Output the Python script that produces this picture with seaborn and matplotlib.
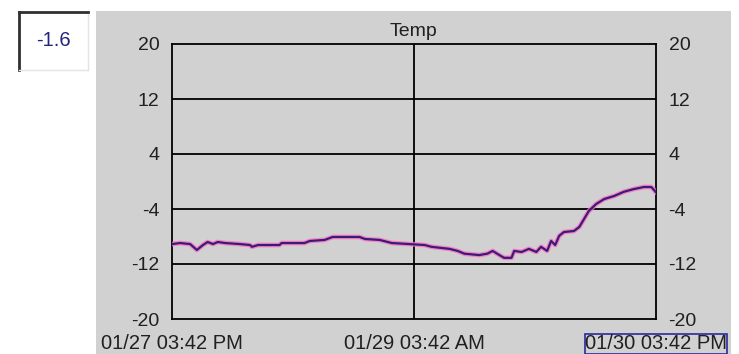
import matplotlib
matplotlib.use("Agg")
import matplotlib.pyplot as plt
import seaborn as sns
import pandas as pd

# ---- data (hours since 01/27 03:42 PM, temperature) ----
hours = [0.0, 1.2, 2.7, 3.7, 4.6, 5.3, 6.1, 6.8, 7.9, 10.1, 11.6, 11.9, 12.8,
         16.0, 16.3, 19.7, 20.5, 22.7, 23.9, 27.9, 28.7, 30.9, 32.7, 35.3, 37.6,
         38.6, 41.3, 42.5, 43.5, 45.7, 46.9, 47.7, 48.7, 49.4, 50.5, 50.9, 52.0,
         53.1, 54.2, 54.9, 55.8, 56.4, 57.0, 57.6, 58.3, 59.8, 60.6, 61.3, 62.0,
         63.1, 64.3, 65.8, 67.2, 68.7, 70.2, 71.3, 71.85, 72.0]
temps = [-9.1, -8.95, -9.1, -9.96, -9.24, -8.8, -9.1, -8.8, -8.95, -9.1, -9.24,
         -9.5, -9.24, -9.24, -8.95, -8.95, -8.65, -8.5, -8.07, -8.07, -8.36,
         -8.5, -8.95, -9.1, -9.24, -9.5, -9.8, -10.1, -10.5, -10.7, -10.5,
         -10.1, -10.7, -11.1, -11.1, -10.1, -10.25, -9.8, -10.25, -9.5, -10.1,
         -8.65, -9.24, -7.9, -7.35, -7.2, -6.6, -5.45, -4.3, -3.27, -2.55,
         -2.1, -1.5, -1.1, -0.8, -0.8, -1.4, -1.6]
y_ticks = [-20, -12, -4, 4, 12, 20]
x_ticks = [0, 36, 72]
x_labels = ["01/27 03:42 PM", "01/29 03:42 AM", "01/30 03:42 PM"]
title = "Temp"
current_value = "-1.6"

df = pd.DataFrame({"hours": hours, "temp": temps})

sns.set_theme(style="white")
plt.rcParams["font.family"] = ["Liberation Sans", "DejaVu Sans"]

W, H = 739, 354
fig = plt.figure(figsize=(W / 100, H / 100), dpi=100)
fig.patch.set_facecolor("white")

gray = "#d1d1d1"
# gray panel (background axes)
bg = fig.add_axes([96 / W, 0, (731 - 96) / W, (H - 11) / H])
bg.set_facecolor(gray)
bg.set_xticks([])
bg.set_yticks([])
for s in bg.spines.values():
    s.set_visible(False)
bg.set_zorder(0)

# current value box
box = fig.add_axes([19 / W, (H - 70) / H, 69 / W, 58 / H])
box.set_facecolor("white")
box.set_xticks([])
box.set_yticks([])
for k, s in box.spines.items():
    if k in ("left", "top"):
        s.set_color("#303030")
        s.set_linewidth(2)
    else:
        s.set_color("#e4e4e4")
        s.set_linewidth(1)
box.text(0.5, 0.5, current_value, ha="center", va="center",
         fontsize=14.5, color="#24247e", transform=box.transAxes)

ax = fig.add_axes([172 / W, (H - 319) / H, (656 - 172) / W, (319 - 44) / H])
ax.set_zorder(2)
ax.set_facecolor(gray)

sns.lineplot(data=df, x="hours", y="temp", ax=ax, color="#ff6fc0",
             linewidth=3.4, alpha=0.8, zorder=3)
sns.lineplot(data=df, x="hours", y="temp", ax=ax, color="#3a1c78",
             linewidth=1.6, zorder=4)

ax.set_xlim(0, 72)
ax.set_ylim(-20, 20)
ax.set_yticks(y_ticks)
ax.set_yticklabels([str(v) for v in y_ticks])
ax.set_xticks(x_ticks)
ax.set_xticklabels(x_labels)
for v in y_ticks[1:-1]:
    ax.axhline(v, color="black", linewidth=1.3, zorder=2)
ax.axvline(36, color="black", linewidth=1.3, zorder=2)
for s in ax.spines.values():
    s.set_color("black")
    s.set_linewidth(1.3)
ax.set_xlabel("")
ax.set_ylabel("")
ax.tick_params(axis="y", length=0, pad=9, labelsize=14, labelright=True,
               labelcolor="#202020")
ax.tick_params(axis="x", length=0, pad=11, labelsize=14.5, labelcolor="#202020")
xl = ax.get_xticklabels()
xl[2].set_bbox(dict(facecolor="none", edgecolor="#2a2aa0", linewidth=1.2,
                    pad=0.3))
ax.set_title(title, fontsize=14, pad=6, color="#202020")

fig.savefig("out.png", dpi=100, facecolor="white")
